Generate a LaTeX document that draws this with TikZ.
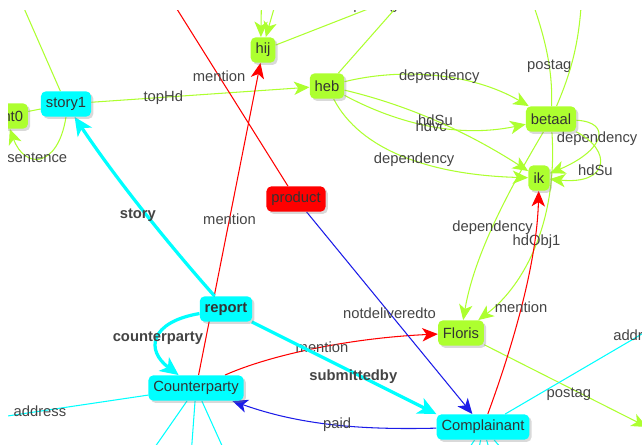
\documentclass[tikz,border=0pt]{standalone}
\usepackage{fontspec}
\setmainfont{Liberation Sans}
\usetikzlibrary{arrows.meta,shadows,backgrounds}
\definecolor{nodegreen}{HTML}{ADFF2F}
\definecolor{nodecyan}{HTML}{00FFFF}
\definecolor{nodered}{HTML}{FF0000}
\definecolor{edgeblue}{HTML}{1C1CE8}
\definecolor{txtgrey}{HTML}{444444}
\tikzset{
  box/.style={rectangle, rounded corners=3.5pt, minimum height=18pt, minimum width=15pt,
    inner xsep=3.5pt, inner ysep=2pt, text=black!80, font=\fontsize{10.5}{12}\selectfont,
    drop shadow={shadow xshift=1.6pt, shadow yshift=-1.6pt, opacity=0.3}},
  gbox/.style={box, fill=nodegreen},
  cbox/.style={box, fill=nodecyan},
  rbox/.style={box, fill=nodered},
  lbl/.style={text=txtgrey, font=\fontsize{10.5}{12}\selectfont, inner sep=1pt},
  blbl/.style={lbl, font=\fontsize{10.5}{12}\selectfont\bfseries},
  gedge/.style={draw=nodegreen, line width=0.75pt},
  redge/.style={draw=nodered, line width=0.75pt},
  bedge/.style={draw=edgeblue, line width=0.75pt},
  cthin/.style={draw=nodecyan, line width=0.75pt},
  cthick/.style={draw=nodecyan, line width=2.3pt},
  arrowhd/.style={-{Stealth[length=11pt,width=9.5pt,inset=3pt]}},
  bigarrowhd/.style={-{Stealth[length=13pt,width=12pt,inset=3.5pt]}},
}
\begin{document}
\begin{tikzpicture}[x=0.25mm,y=-0.25mm]
  \useasboundingbox (0,0) rectangle (642,444);
  \begin{scope}
    \clip (8,10) rectangle (642,444);
    \node[gbox] (sent0) at (5,116) {sent0};
    \node[cbox] (story1) at (66,104) {story1};
    \node[gbox] (hij) at (263,50) {hij};
    \node[gbox] (heb) at (327,86) {heb};
    \node[gbox] (betaal) at (551,119) {betaal};
    \node[gbox] (ik) at (539,178) {ik};
    \node[rbox] (product) at (296,199) {product};
    \node[cbox,font=\fontsize{10.5}{12}\selectfont\bfseries] (report) at (226,309) {report};
    \node[gbox] (Floris) at (461,333) {Floris};
    \node[cbox] (Counterparty) at (196,388) {Counterparty};
    \node[cbox] (Complainant) at (483,427) {Complainant};
  \end{scope}

  \coordinate (postagTop) at (409,-7);
  \coordinate (hijInA) at (262,-40);
  \coordinate (hijInB) at (288,-40);
  \coordinate (storyTop) at (16,-10);
  \coordinate (productTop) at (165,-10);
  \coordinate (betaalTopA) at (528,-10);
  \coordinate (betaalTopB) at (582,-10);
  \coordinate (postagRight) at (647,427);
  \coordinate (addrRight) at (700,300);
  \coordinate (addrLeft) at (-60,426);
  \coordinate (cpDownA) at (139,470);
  \coordinate (cpDownB) at (190,470);
  \coordinate (cpDownC) at (233,470);

  \begin{pgfonlayer}{background}
    \clip (8,10) rectangle (642,444);
    % green edges
    \draw[gedge,arrowhd] (story1) -- node[lbl,pos=0.33] {topHd} (heb);
    \draw[gedge] (sent0) -- (story1);
    \draw[gedge,arrowhd] (story1.south) .. controls (58,168) and (25,170) .. node[lbl,pos=0.55] {sentence} (sent0);
    \draw[gedge] (story1) -- (storyTop);
    \draw[gedge,arrowhd] (hijInA) -- ([xshift=-1.5pt]hij.north);
    \draw[gedge,arrowhd] (hijInB) -- ([xshift=2pt]hij.north);
    \draw[gedge] (hij) -- node[lbl,pos=0.75] {postag} (postagTop);
    \draw[gedge] (heb) -- (postagTop);
    \draw[gedge,arrowhd] (heb) .. controls (400,68) and (470,72) .. node[lbl,pos=0.52] {dependency} (betaal);
    \draw[gedge,arrowhd] (heb) .. controls (400,125) and (460,138) .. node[lbl,pos=0.5] {hdvc} (betaal);
    \draw[gedge,arrowhd] (heb) .. controls (420,108) and (480,140) .. node[lbl,pos=0.44] {hdSu} (ik);
    \draw[gedge,arrowhd] (heb) .. controls (360,150) and (430,175) .. node[lbl,pos=0.55] {dependency} (ik);
    \draw[gedge,arrowhd] (betaal) .. controls (612,122) and (605,150) .. node[lbl,pos=0.5] {dependency} (ik);
    \draw[gedge,arrowhd] (betaal) .. controls (612,150) and (610,185) .. node[lbl,pos=0.6] {hdSu} (ik);
    \draw[gedge,arrowhd] (betaal) .. controls (515,180) and (475,250) .. node[lbl,pos=0.55] {dependency} (Floris);
    \draw[gedge,arrowhd] (betaal) .. controls (558,220) and (525,285) .. node[lbl,pos=0.48] {hdObj1} (Floris);
    \draw[gedge] (betaal) .. controls (553,70) and (545,35) .. node[lbl,pos=0.37] {postag} (betaalTopA);
    \draw[gedge] (betaal) .. controls (572,70) and (580,40) .. (betaalTopB);
    \draw[gedge,arrowhd] (Floris) -- node[lbl,pos=0.52,yshift=-5pt] {postag} (postagRight);
    % red edges
    \draw[redge,arrowhd] (Counterparty) -- node[lbl,pos=0.5] {mention} (hij);
    \draw[redge,arrowhd] (product) -- node[lbl,pos=0.56] {mention} (productTop);
    \draw[redge,arrowhd] (Counterparty) .. controls (270,355) and (350,338) .. node[lbl,pos=0.53] {mention} (Floris);
    \draw[redge,arrowhd] (Complainant) .. controls (515,340) and (537,260) .. node[lbl,pos=0.47] {mention} (ik);
    % blue edges
    \draw[bedge,arrowhd] (product) -- node[lbl,pos=0.5] {notdeliveredto} (Complainant);
    \draw[bedge,arrowhd] (Complainant) .. controls (360,430) and (300,425) .. node[lbl,pos=0.47] {paid} (Counterparty);
    % cyan edges
    \draw[cthick,bigarrowhd] (report) .. controls (172,248) and (118,182) .. node[blbl,pos=0.5,xshift=-5pt,yshift=-2pt] {story} (story1);
    \draw[cthick,bigarrowhd] (report) .. controls (150,322) and (145,350) .. node[blbl,pos=0.5] {counterparty} (Counterparty);
    \draw[cthick,bigarrowhd] (report) -- node[blbl,pos=0.55,yshift=-3pt] {submittedby} (Complainant.north west);
    \draw[cthin] (Counterparty) -- node[lbl,pos=0.52] {address} (addrLeft);
    \draw[cthin] (Complainant) -- node[lbl,pos=0.69] {address} (addrRight);
    \foreach \p in {cpDownA,cpDownB,cpDownC}
      \draw[cthin] (Counterparty) -- (\p);
    \foreach \x in {455,475,495,520}
      \draw[cthin] (Complainant) -- (\x,470);
  \end{pgfonlayer}
\end{tikzpicture}
\end{document}
